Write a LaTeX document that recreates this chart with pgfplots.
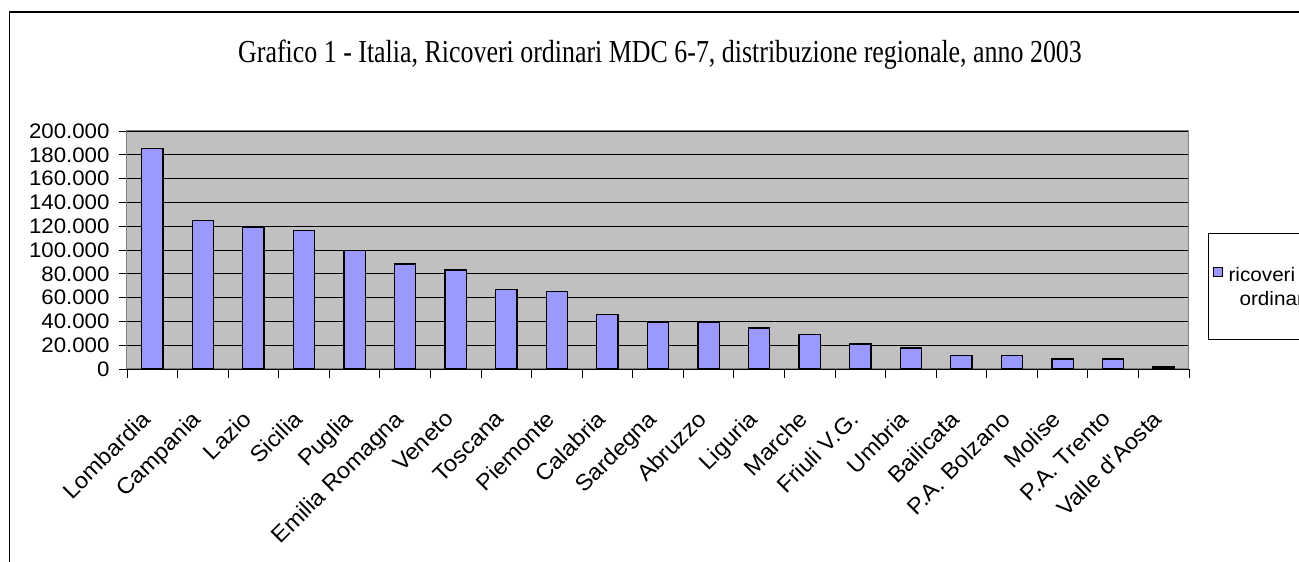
\documentclass[border=0pt]{standalone}
\usepackage{fontspec}
\setmainfont{Liberation Sans}
\newfontfamily\titlefont[FakeStretch=0.81]{Liberation Serif}
\newfontfamily\labfont[FakeStretch=1.06]{Liberation Sans}
\usepackage{pgfplots}
\pgfplotsset{compat=1.18}

\definecolor{barblue}{HTML}{9999FF}
\definecolor{plotgray}{HTML}{C0C0C0}
\definecolor{framegray}{HTML}{808080}

\begin{document}
\begin{tikzpicture}
\useasboundingbox (0,0) rectangle (1299pt,562pt);
\clip (0,0) rectangle (1299pt,562pt);
% outer chart frame, cut by the page edge
\draw[line width=1.2pt] (9.5pt,-20pt) -- (9.5pt,550pt) -- (1330pt,550pt);
\node[anchor=base, font=\titlefont\fontsize{32}{36}\selectfont] at (660pt,499pt)
  {Grafico 1 - Italia, Ricoveri ordinari MDC 6-7, distribuzione regionale, anno 2003};

\begin{axis}[
    at={(127pt,193pt)}, anchor=south west,
    scale only axis,
    width=1062pt, height=238pt,
    xmin=-0.5, xmax=20.5,
    ymin=0, ymax=200000,
    axis background/.style={fill=plotgray},
    axis line style={draw=framegray, line width=1pt},
    ytick={0,20000,...,200000},
    yticklabels={0,20.000,40.000,60.000,80.000,100.000,120.000,140.000,160.000,180.000,200.000},
    scaled y ticks=false,
    ymajorgrids,
    grid style={black, line width=0.9pt},
    tick align=outside,
    major tick length=8pt,
    minor tick length=9pt,
    tick style={black, line width=0.8pt},
    xtick pos=bottom, ytick pos=left,
    yticklabel style={font=\labfont\fontsize{21}{24}\selectfont, xshift=-6pt},
    xtick={0,1,...,20},
    major x tick style={draw=none},
    minor xtick={-0.5,0.5,...,20.5},
    xticklabels={Lombardia,Campania,Lazio,Sicilia,Puglia,Emilia Romagna,Veneto,Toscana,Piemonte,Calabria,Sardegna,Abruzzo,Liguria,Marche,Friuli V.G.,Umbria,Bailicata,P.A. Bolzano,Molise,P.A. Trento,Valle d'Aosta},
    xticklabel style={xshift=-12pt, yshift=-32pt, rotate=45, anchor=north east,
      inner sep=0pt, font=\labfont\fontsize{22.5}{26}\selectfont},
    legend style={at={(1.018,0.571)}, anchor=north west,
      draw=black, line width=1pt, inner xsep=4pt, inner ysep=3pt,
      font=\labfont\fontsize{19.5}{24}\selectfont,
      nodes={inner sep=0pt, text height=45pt, text depth=55pt},
      /tikz/every odd column/.append style={column sep=6pt}},
    legend image code/.code={%
      \draw[#1, line width=1pt] (0pt,10pt) rectangle (9pt,19pt);},
]
\addplot[ybar, bar width=0.42, fill=barblue, draw=black, line width=1.3pt] coordinates {
    (0,185000) (1,124500) (2,119300) (3,116200) (4,99500)
    (5,88300) (6,83300) (7,67000) (8,65000) (9,46000)
    (10,39500) (11,39500) (12,34500) (13,29200) (14,21000)
    (15,17600) (16,11200) (17,11200) (18,8400) (19,8400)
    (20,1700)
};
\addlegendentry{\begin{tabular}[t]{@{}l@{}}ricoveri\\\hspace*{11pt}ordinari\hspace*{30pt}\end{tabular}}
\end{axis}
\end{tikzpicture}
\end{document}
